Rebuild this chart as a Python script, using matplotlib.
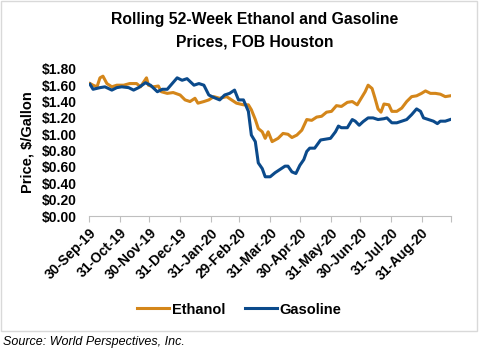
import pandas as pd
import matplotlib.pyplot as plt
from matplotlib.patches import Rectangle

plt.rcParams["font.family"] = ["Liberation Sans", "DejaVu Sans"]

START = "2019-09-30"

# days after 30-Sep-19, price in $/gallon
eth_days = [1, 4, 8, 11, 14, 18, 23, 28, 35, 41, 48, 52, 58, 60, 65, 70, 73, 79,
            85, 92, 97, 102, 107, 110, 116, 121, 126, 132, 139, 144, 149, 156, 161,
            164, 168, 171, 175, 178, 181, 185, 191, 196, 201, 205, 210, 215, 220,
            225, 230, 235, 240, 245, 250, 255, 261, 266, 271, 276, 279, 282, 286,
            289, 292, 295, 298, 303, 306, 311, 316, 321, 326, 331, 336, 340, 345,
            350, 355, 360, 365]
eth_price = [1.62, 1.60, 1.58, 1.69, 1.71, 1.62, 1.58, 1.60, 1.60, 1.62, 1.62, 1.58,
             1.69, 1.60, 1.58, 1.59, 1.52, 1.50, 1.51, 1.48, 1.42, 1.40, 1.44, 1.38,
             1.40, 1.42, 1.46, 1.44, 1.46, 1.42, 1.38, 1.36, 1.36, 1.30, 1.18, 1.07,
             1.03, 0.95, 1.03, 0.91, 0.95, 1.01, 1.00, 0.96, 0.99, 1.05, 1.18, 1.17,
             1.21, 1.22, 1.27, 1.28, 1.35, 1.34, 1.39, 1.40, 1.36, 1.46, 1.52, 1.60,
             1.56, 1.44, 1.31, 1.27, 1.37, 1.36, 1.28, 1.28, 1.32, 1.40, 1.46, 1.47,
             1.50, 1.53, 1.50, 1.50, 1.49, 1.46, 1.47]

gas_days = [1, 4, 11, 16, 23, 28, 33, 40, 45, 50, 57, 62, 69, 74, 79, 84, 89, 94,
            99, 106, 111, 116, 121, 126, 132, 137, 142, 147, 151, 156, 161, 164,
            168, 171, 175, 178, 183, 188, 193, 198, 201, 205, 209, 213, 217, 220,
            223, 228, 234, 239, 244, 249, 252, 255, 261, 266, 269, 273, 277, 282,
            287, 292, 298, 301, 306, 311, 316, 321, 326, 331, 335, 338, 343, 348,
            352, 355, 360, 365]
gas_price = [1.61, 1.55, 1.57, 1.58, 1.54, 1.57, 1.58, 1.57, 1.54, 1.57, 1.63, 1.60,
             1.52, 1.55, 1.55, 1.62, 1.69, 1.66, 1.68, 1.60, 1.62, 1.60, 1.48, 1.45,
             1.42, 1.48, 1.50, 1.54, 1.42, 1.42, 1.28, 0.99, 0.91, 0.65, 0.58, 0.48,
             0.48, 0.53, 0.57, 0.61, 0.61, 0.54, 0.52, 0.62, 0.69, 0.79, 0.83, 0.83,
             0.93, 0.94, 0.95, 1.03, 1.10, 1.08, 1.08, 1.18, 1.16, 1.11, 1.155, 1.20,
             1.20, 1.18, 1.19, 1.20, 1.14, 1.14, 1.16, 1.18, 1.24, 1.31, 1.28, 1.20,
             1.18, 1.16, 1.13, 1.16, 1.16, 1.18]

tick_dates = ["2019-09-30", "2019-10-31", "2019-11-30", "2019-12-31", "2020-01-31",
              "2020-02-29", "2020-03-31", "2020-04-30", "2020-05-31", "2020-06-30",
              "2020-07-31", "2020-08-31", "2020-09-30"]
y_ticks = [0.0, 0.2, 0.4, 0.6, 0.8, 1.0, 1.2, 1.4, 1.6, 1.8]

eth_dates = pd.Timestamp(START) + pd.to_timedelta(eth_days, unit="D")
gas_dates = pd.Timestamp(START) + pd.to_timedelta(gas_days, unit="D")
ticks = pd.to_datetime(tick_dates)

fig = plt.figure(figsize=(4.79, 3.53), dpi=100)
ax = fig.add_axes([0.186, 0.388, 0.756, 0.417])

ax.plot(eth_dates, eth_price, color="#D4861A", lw=2.2, label="Ethanol")
ax.plot(gas_dates, gas_price, color="#0B4A8B", lw=2.2, label="Gasoline")

ax.set_xlim(ticks[0], ticks[-1])
ax.set_ylim(0, 1.8)
ax.set_yticks(y_ticks)
ax.set_yticklabels([f"${v:.2f}" for v in y_ticks], fontsize=10, fontweight="bold")
ax.set_xticks(ticks)
labels = [t.strftime("%d-%b-%y") for t in ticks[:-1]] + [""]
ax.set_xticklabels(labels, rotation=45, ha="right", rotation_mode="anchor",
                   fontsize=10, fontweight="bold")
ax.tick_params(axis="y", length=0, pad=9)
ax.tick_params(axis="x", length=4, color="#BFBFBF", direction="out", pad=3)

for side in ["top", "right", "left"]:
    ax.spines[side].set_visible(False)
ax.spines["bottom"].set_color("#BFBFBF")

ax.set_ylabel("Price, $/Gallon", fontsize=10.5, fontweight="bold", labelpad=5)

fig.text(0.532, 0.913, "Rolling 52-Week Ethanol and Gasoline\nPrices, FOB Houston",
         ha="center", va="center", fontsize=11.3, fontweight="bold", linespacing=1.55)

fig.legend(loc="center", bbox_to_anchor=(0.50, 0.123), ncol=2, frameon=False,
           prop={"weight": "bold", "size": 10.5}, handlelength=2.2,
           columnspacing=1.3, handletextpad=0.2)

fig.patches.append(Rectangle((0.002, 1 - 331 / 353), 0.994, 330 / 353,
                             transform=fig.transFigure, fill=False,
                             edgecolor="#D9D9D9", lw=1))

fig.text(0.006, 0.03, "Source: World Perspectives, Inc.", fontsize=9,
         style="italic", ha="left", va="center")

fig.savefig("out.png", dpi=100)
